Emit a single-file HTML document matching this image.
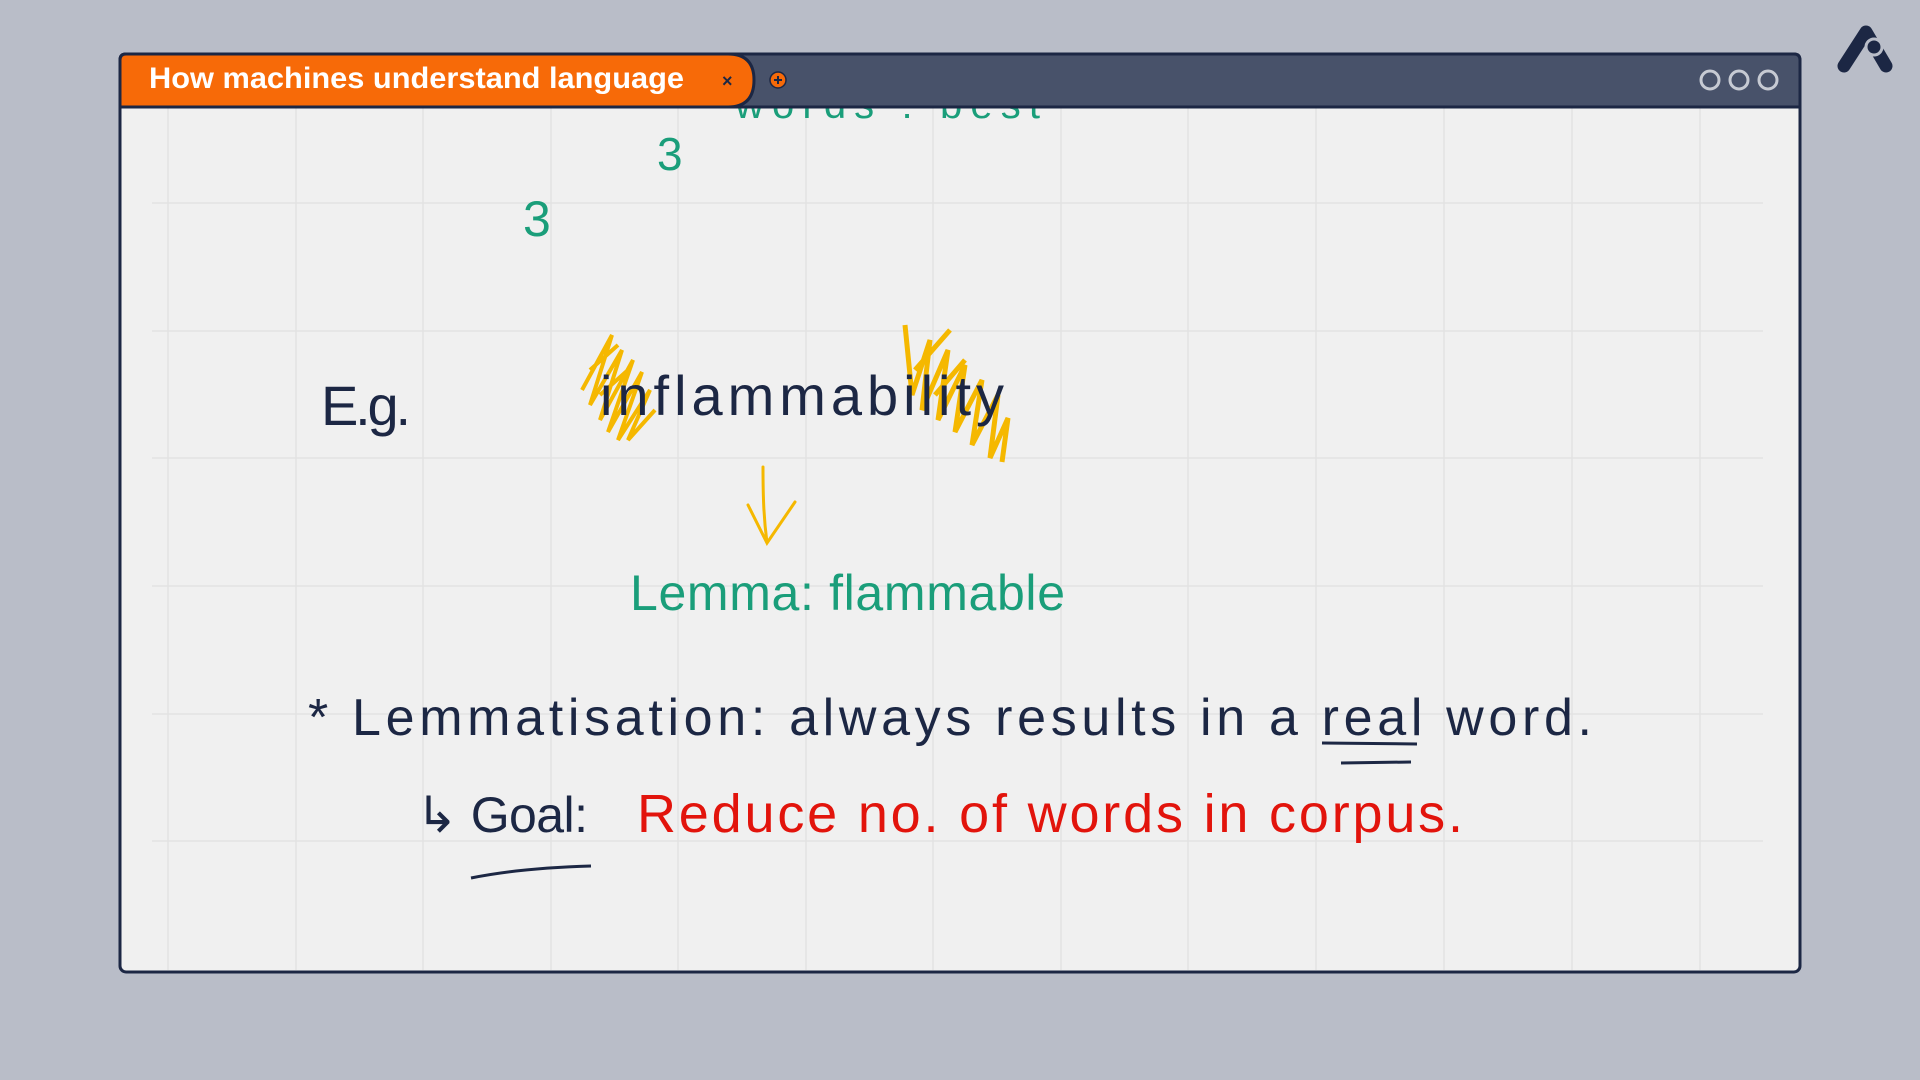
<!DOCTYPE html>
<html><head><meta charset="utf-8"><style>
html,body{margin:0;padding:0;width:1920px;height:1080px;overflow:hidden;background:#b9bdc8;}
</style></head><body>
<svg width="1920" height="1080" xmlns="http://www.w3.org/2000/svg" style="position:absolute;left:0;top:0">
  <rect x="120" y="54" width="1680" height="918" rx="6" fill="#f0f0f0" stroke="#1c2744" stroke-width="3"/>
  <g stroke="#e2e2e2" stroke-width="1.5">
    <line x1="168" y1="108" x2="168" y2="970"/><line x1="296" y1="108" x2="296" y2="970"/>
    <line x1="423" y1="108" x2="423" y2="970"/><line x1="551" y1="108" x2="551" y2="970"/>
    <line x1="678" y1="108" x2="678" y2="970"/><line x1="806" y1="108" x2="806" y2="970"/>
    <line x1="933" y1="108" x2="933" y2="970"/><line x1="1061" y1="108" x2="1061" y2="970"/>
    <line x1="1188" y1="108" x2="1188" y2="970"/><line x1="1316" y1="108" x2="1316" y2="970"/>
    <line x1="1444" y1="108" x2="1444" y2="970"/><line x1="1572" y1="108" x2="1572" y2="970"/>
    <line x1="1700" y1="108" x2="1700" y2="970"/>
    <line x1="152" y1="203" x2="1763" y2="203"/><line x1="152" y1="331" x2="1763" y2="331"/>
    <line x1="152" y1="458" x2="1763" y2="458"/><line x1="152" y1="586" x2="1763" y2="586"/>
    <line x1="152" y1="714" x2="1763" y2="714"/><line x1="152" y1="841" x2="1763" y2="841"/>
  </g>
  <text x="735" y="118" font-family="Liberation Sans, sans-serif" font-size="40" fill="#1a9e7a" textLength="305">words : best</text>
  <!-- title bar (covers top of text) -->
  <path d="M120 60 Q120 54 126 54 L1794 54 Q1800 54 1800 60 L1800 107 L120 107 Z" fill="#48526a" stroke="#1c2744" stroke-width="3"/>
  <path d="M120 60 Q120 54 126 54 L728 54 Q754 54 754 80 Q754 107 728 107 L120 107 Z" fill="#f76a08" stroke="#1c2744" stroke-width="3"/>
  <text x="149" y="88" font-family="Liberation Sans, sans-serif" font-weight="bold" font-size="30" fill="#fff" textLength="535" lengthAdjust="spacingAndGlyphs">How machines understand language</text>
  <text x="722" y="87" font-family="Liberation Sans, sans-serif" font-weight="bold" font-size="18" fill="#1c2744">×</text>
  <circle cx="778" cy="80" r="8" fill="#f76a08" stroke="#1c2744" stroke-width="1.5"/>
  <path d="M774 80 H782 M778 76 V84" stroke="#1c2744" stroke-width="2"/>
  <g fill="none" stroke="#c6cad3" stroke-width="3">
    <circle cx="1710" cy="80" r="9"/><circle cx="1739" cy="80" r="9"/><circle cx="1768" cy="80" r="9"/>
  </g>
  <path d="M1844 66 L1866 32 L1886 66" fill="none" stroke="#1c2744" stroke-width="13" stroke-linecap="round" stroke-linejoin="round"/>
  <circle cx="1874" cy="47" r="8" fill="#1c2744" stroke="#b9bdc8" stroke-width="3"/>
  <g font-family="Liberation Sans, sans-serif" font-weight="normal">
    <text x="657" y="170" font-size="46" fill="#1a9e7a">3</text>
    <text x="523" y="236" font-size="50" fill="#1a9e7a">3</text>
    <text x="321" y="425" font-size="56" fill="#1c2744" textLength="90">E.g.</text>
    <path d="M582 390 L612 335 L590 405 L622 350 L600 420 L633 360 L608 432 L642 372 L618 440 L650 390 L628 440 L655 410 M590 370 L618 345 M600 395 L628 370" fill="none" stroke="#f5b800" stroke-width="4"/>
    <path d="M905 325 L912 395 L930 340 L922 410 L948 350 L938 420 L965 365 L955 432 L982 380 L972 445 L998 395 L990 458 L1008 418 L1002 462 M915 370 L950 330 M935 395 L965 360" fill="none" stroke="#f5b800" stroke-width="5"/>
    <text x="600" y="415" font-size="56" fill="#1c2744" textLength="404">inflammability</text>
    <path d="M763 467 C763 500 764 520 767 543 M748 505 L767 543 L795 502" fill="none" stroke="#f5b800" stroke-width="3" stroke-linecap="round"/>
    <text x="630" y="610" font-size="50" fill="#1a9e7a" textLength="435">Lemma:  flammable</text>
    <text x="308" y="735" font-size="52" fill="#1c2744" textLength="1284">* Lemmatisation:  always  results   in  a  real   word.</text>
    <path d="M1322 743 L1417 744 M1341 763 L1411 762" stroke="#1c2744" stroke-width="3"/>
    <text x="416" y="832" font-size="50" fill="#1c2744" textLength="172">↳ Goal:</text>
    <path d="M471 878 Q520 868 591 866" fill="none" stroke="#1c2744" stroke-width="3"/>
    <text x="637" y="832" font-size="54" fill="#e2140c" textLength="826">Reduce  no.  of  words  in  corpus.</text>
  </g>
</svg>
</body></html>
